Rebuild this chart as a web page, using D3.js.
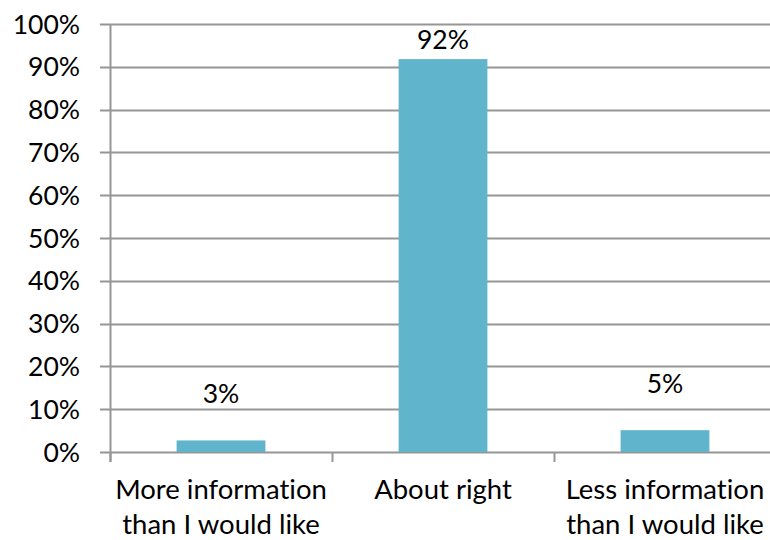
<!DOCTYPE html>
<html>
<head>
<meta charset="utf-8">
<script src="https://cdn.jsdelivr.net/npm/d3@7"></script>
<style>
  body { margin: 0; background: #fff; }
  svg text { font-family: Lato, "Open Sans", sans-serif; fill: #000; font-variant-ligatures: none; }
</style>
</head>
<body>
<div id="chart"></div>
<script>
// data
const categories = [
    ["More information", "than I would like"],
    ["About right"],
    ["Less information", "than I would like"]
];
const values = [2.7, 91.8, 5.1];
const yTicks = [0, 10, 20, 30, 40, 50, 60, 70, 80, 90, 100];

const width = 770, height = 540;
const margin = { top: 24, right: -6, bottom: 88, left: 110 };

const svg = d3.select("#chart").append("svg")
    .attr("width", width)
    .attr("height", height);

const x = d3.scaleBand()
    .domain(d3.range(categories.length))
    .range([margin.left, width - margin.right])
    .paddingInner(0.6)
    .paddingOuter(0.3);

const y = d3.scaleLinear()
    .domain([0, 100])
    .range([height - margin.bottom, margin.top]);

// gridlines
svg.append("g")
    .selectAll("line")
    .data(yTicks)
    .enter().append("line")
    .attr("x1", margin.left - 10)
    .attr("x2", width)
    .attr("y1", d => Math.round(y(d)) + 0.5)
    .attr("y2", d => Math.round(y(d)) + 0.5)
    .attr("stroke", "#969696")
    .attr("stroke-width", 2);

// y axis labels
svg.append("g")
    .selectAll("text")
    .data(yTicks)
    .enter().append("text")
    .attr("x", margin.left - 30)
    .attr("y", d => y(d))
    .attr("dy", "0.36em")
    .attr("text-anchor", "end")
    .style("font-size", "26.5px")
    .text(d => d + "%");

// vertical axis line
svg.append("line")
    .attr("x1", margin.left + 0.5)
    .attr("x2", margin.left + 0.5)
    .attr("y1", y(100))
    .attr("y2", y(0) + 10)
    .attr("stroke", "#969696")
    .attr("stroke-width", 2);

// category tick marks between bands
const step = x.step();
const bandEdges = d3.range(categories.length + 1).map(i => margin.left + i * step);
svg.append("g")
    .selectAll("line")
    .data(bandEdges)
    .enter().append("line")
    .attr("x1", d => Math.round(d) + 0.5)
    .attr("x2", d => Math.round(d) + 0.5)
    .attr("y1", y(0))
    .attr("y2", y(0) + 10)
    .attr("stroke", "#969696")
    .attr("stroke-width", 2);

// bars
svg.append("g")
    .selectAll("rect")
    .data(values)
    .enter().append("rect")
    .attr("x", (d, i) => x(i))
    .attr("width", x.bandwidth())
    .attr("y", d => y(d))
    .attr("height", d => y(0) - y(d))
    .attr("fill", "#60B4CB");

// value labels
svg.append("g")
    .selectAll("text")
    .data(values)
    .enter().append("text")
    .attr("x", (d, i) => x(i) + x.bandwidth() / 2)
    .attr("y", d => d < 20 ? y(d) - 37 : y(d) - 10)
    .attr("text-anchor", "middle")
    .style("font-size", "26.5px")
    .text(d => Math.round(d) + "%");

// category labels
const catLabel = svg.append("g")
    .selectAll("text")
    .data(categories)
    .enter().append("text")
    .attr("x", (d, i) => x(i) + x.bandwidth() / 2)
    .attr("y", y(0) + 47)
    .attr("text-anchor", "middle")
    .style("font-size", "27.5px");

catLabel.selectAll("tspan")
    .data(d => d)
    .enter().append("tspan")
    .attr("x", function () { return d3.select(this.parentNode).attr("x"); })
    .attr("dy", (d, i) => i === 0 ? 0 : 35)
    .text(d => d);
</script>
</body>
</html>
